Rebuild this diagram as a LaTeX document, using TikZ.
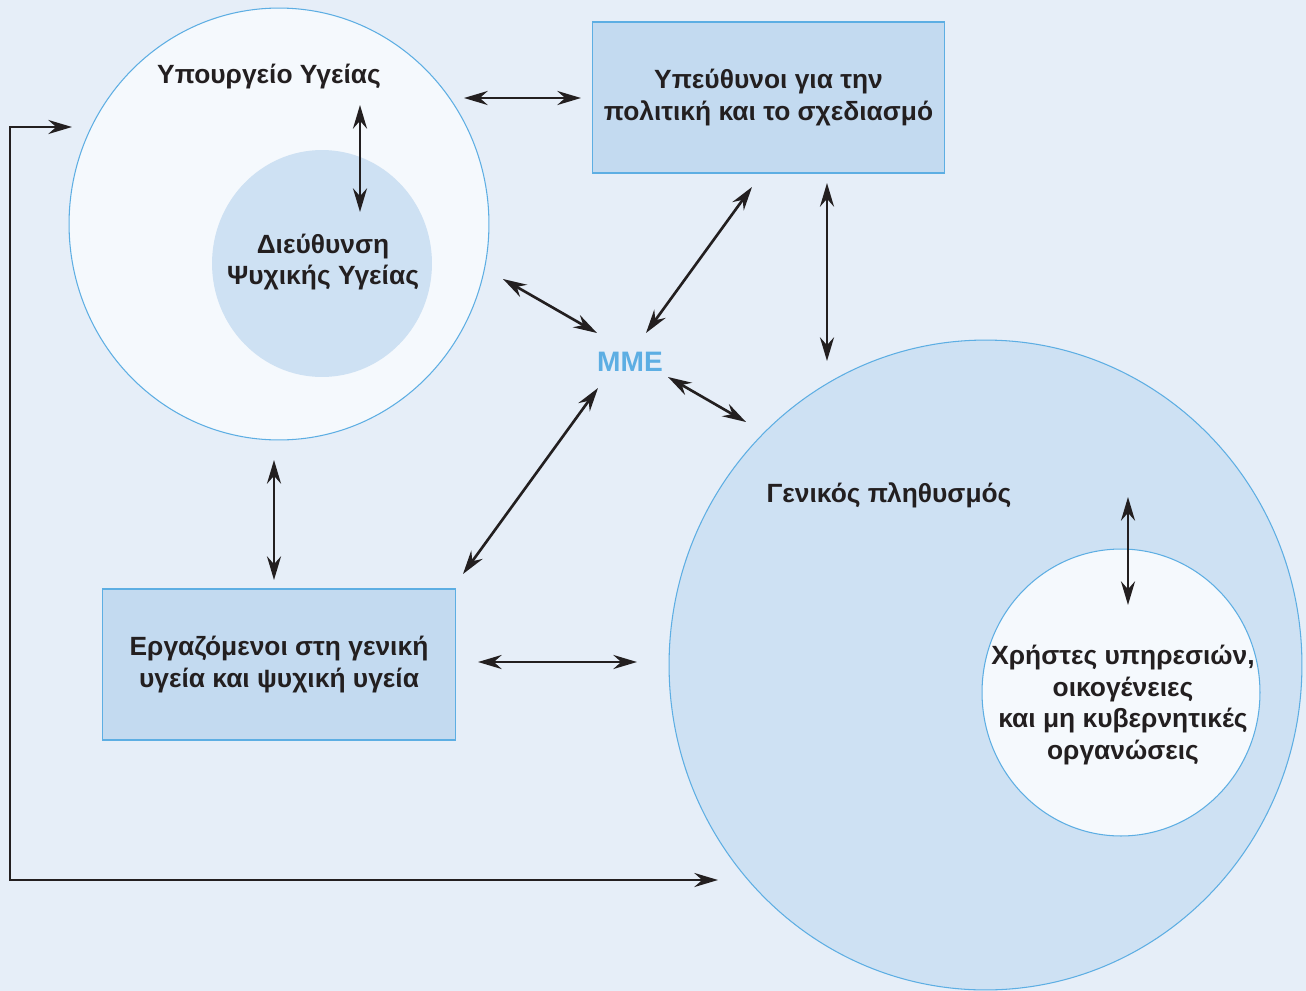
\documentclass[tikz,border=0pt]{standalone}
\usepackage{fontspec}
\setmainfont{Liberation Sans}
\usetikzlibrary{arrows.meta,shapes.geometric}

\definecolor{bgblue}{HTML}{E6EEF8}
\definecolor{paleblue}{HTML}{F5F9FD}
\definecolor{midblue}{HTML}{CEE1F3}
\definecolor{boxblue}{HTML}{C3DAF0}
\definecolor{edgeblue}{HTML}{5DAEE3}
\definecolor{inkblack}{HTML}{231F20}

\tikzset{
  label text/.style={font=\bfseries\fontsize{15}{18}\selectfont, align=center, text=inkblack},
  ring/.style={ellipse, draw=edgeblue, line width=0.6pt, inner sep=0pt},
  panel/.style={rectangle, draw=edgeblue, fill=boxblue, line width=0.6pt,
    minimum width=7.06cm, minimum height=3.02cm, label text},
  link/.style={{Stealth[length=13.5pt,width=8pt,inset=4.5pt]}-{Stealth[length=13.5pt,width=8pt,inset=4.5pt]},
    line width=1.5pt, draw=inkblack}
}

\begin{document}
\begin{tikzpicture}[x=0.02cm,y=-0.02cm]

			% background and page size
			\fill [bgblue] (0,0) rectangle (1306,991);
			\useasboundingbox (0,0) rectangle (1306,991);

			% the two big rings
			\node [ring, fill=paleblue, minimum width=8.4cm, minimum height=8.64cm] (ministry) at (279,224) {};
			\node [ring, draw=none, fill=midblue, minimum width=4.4cm, minimum height=4.54cm] (directorate) at (322,263.5) {};
			\node [label text] (directoratetext) at (323,262) {Διεύθυνση\\Ψυχικής Υγείας};
			\node [label text] (ministrytext) at (269,77) {Υπουργείο Υγείας};

			\node [ring, fill=midblue, minimum width=12.66cm, minimum height=13cm] (public) at (985.5,665) {};
			\node [ring, fill=paleblue, minimum width=5.56cm, minimum height=5.74cm] (users) at (1121,692.5) {};
			\node [label text] (publictext) at (889,495) {Γενικός πληθυσμός};
			\node [label text] (userstext) at (1123,705) {Χρήστες υπηρεσιών,\\οικογένειες\\και μη κυβερνητικές\\οργανώσεις};

			% the two boxes
			\node [panel] (policy) at (768.5,97.5) {Υπεύθυνοι για την\\πολιτική και το σχεδιασμό};
			\node [panel] (workers) at (279,664.5) {Εργαζόμενοι στη γενική\\υγεία και ψυχική υγεία};

			\node [font=\bfseries\fontsize{16}{18}\selectfont, text=edgeblue] (media) at (630,362) {ΜΜΕ};

			% arrow ends
			\coordinate (ministryE) at (464,98);
			\coordinate (policyW) at (581,98);
			\coordinate (ministryIn) at (360,105);
			\coordinate (directorateN) at (360,212);
			\coordinate (ministrySE) at (503,279);
			\coordinate (mediaNW) at (597,333);
			\coordinate (policySW) at (752,187);
			\coordinate (mediaNE) at (646,333);
			\coordinate (policyS) at (827,183);
			\coordinate (publicN) at (827,361);
			\coordinate (mediaSE) at (668,377);
			\coordinate (publicNW) at (746,422);
			\coordinate (mediaSW) at (598,388);
			\coordinate (workersNE) at (463,574);
			\coordinate (ministryS) at (274,460);
			\coordinate (workersN) at (274,580);
			\coordinate (workersE) at (478,662);
			\coordinate (publicW) at (637,662);
			\coordinate (publicIn) at (1128,497);
			\coordinate (usersN) at (1128,605);
			\coordinate (ministryW) at (72,127);
			\coordinate (publicSW) at (718,880);

			\draw [link] (ministryE) -- (policyW);
			\draw [link] (ministryIn) -- (directorateN);
			\draw [link] (ministrySE) -- (mediaNW);
			\draw [link] (policySW) -- (mediaNE);
			\draw [link] (policyS) -- (publicN);
			\draw [link] (mediaSE) -- (publicNW);
			\draw [link] (mediaSW) -- (workersNE);
			\draw [link] (ministryS) -- (workersN);
			\draw [link] (workersE) -- (publicW);
			\draw [link] (publicIn) -- (usersN);
			\draw [link] (ministryW) -- (10,127) -- (10,880) -- (publicSW);

		\end{tikzpicture}
\end{document}
